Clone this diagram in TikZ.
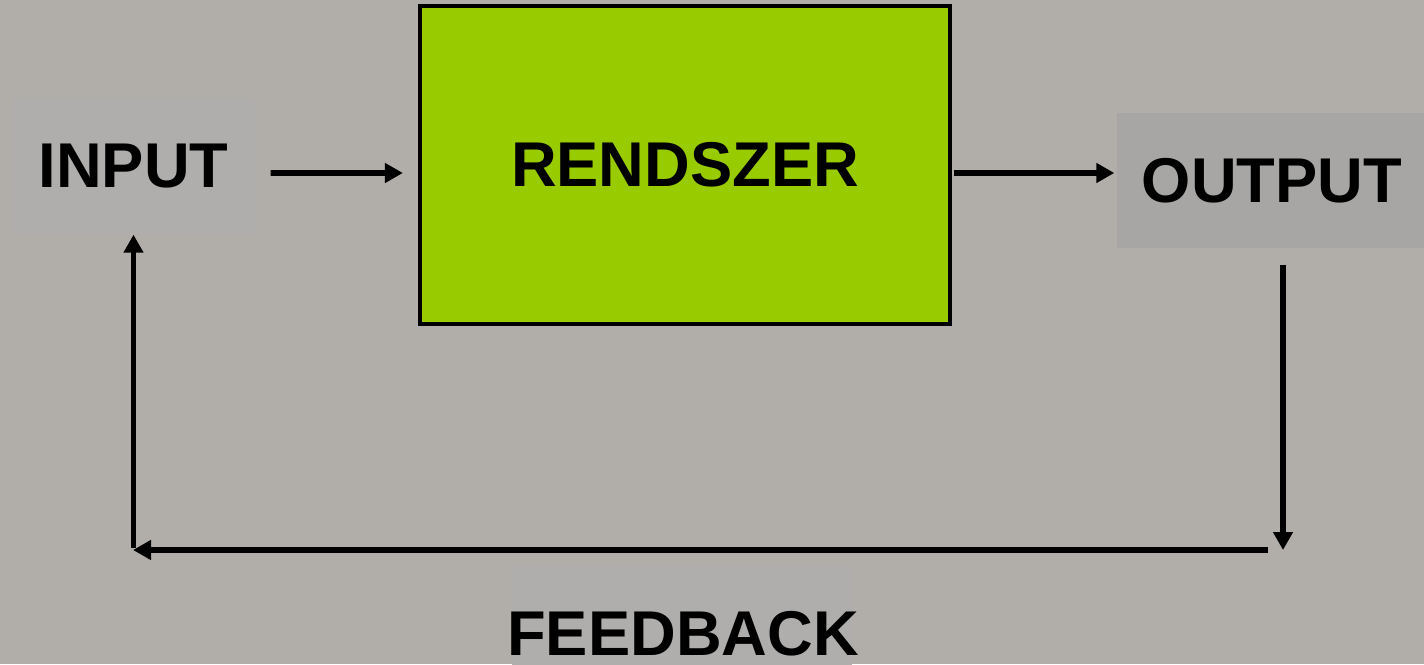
\documentclass[tikz,border=0pt]{standalone}
\usepackage{fontspec}
\setmainfont{Liberation Sans}
\usetikzlibrary{arrows.meta,positioning,calc}
\definecolor{bgcol}{HTML}{B1ADA9}
\definecolor{lightbox}{HTML}{AFAEAC}
\definecolor{darkbox}{HTML}{A7A6A4}
\definecolor{sysgreen}{HTML}{99CC00}
\begin{document}
\begin{tikzpicture}[
    lbl/.style={rectangle, inner sep=0pt, font=\fontsize{18}{22}\selectfont\bfseries},
    arr/.style={line width=1.7pt, -{Triangle[length=0.18cm, width=0.19cm]}},
]
    \fill[bgcol] (0,0) rectangle (14.24,6.64);
    \useasboundingbox (0,0) rectangle (14.24,6.64);
    \clip (0,0) rectangle (14.24,6.64);
    \node[lbl, fill=lightbox, minimum width=2.43cm, minimum height=1.36cm] (input) at (1.335,4.98) {INPUT};
    \node[lbl, fill=sysgreen, draw=black, line width=1.2pt, minimum width=5.30cm, minimum height=3.18cm] (rendszer) at (6.85,4.99) {RENDSZER};
    \node[lbl, fill=darkbox, minimum width=3.10cm, minimum height=1.35cm] (output) at (12.72,4.835) {OUTPUT};
    \node[rectangle, fill=lightbox, minimum width=3.40cm, minimum height=1.40cm] (fbbox) at (6.82,0.28) {};
    \node[lbl] (feedback) at (6.83,0.30) {FEEDBACK};
    \coordinate (dn) at (12.83,1.14);
    \coordinate (fbR) at (12.68,1.14);
    \coordinate (fbL) at (1.33,1.14);
    \draw[arr] ([xshift=0.15cm,yshift=-0.07cm]input.east) -- ([xshift=-0.15cm,yshift=-0.08cm]rendszer.west);
    \draw[arr] ([xshift=0.02cm,yshift=-0.08cm]rendszer.east) -- ([xshift=-0.02cm,yshift=0.075cm]output.west);
    \draw[arr] ([xshift=0.11cm,yshift=-0.16cm]output.south) -- (dn);
    \draw[arr] (fbR) -- (fbL);
    \draw[arr] ([yshift=0.02cm]input.south |- fbL) -- (input.south);
\end{tikzpicture}
\end{document}
